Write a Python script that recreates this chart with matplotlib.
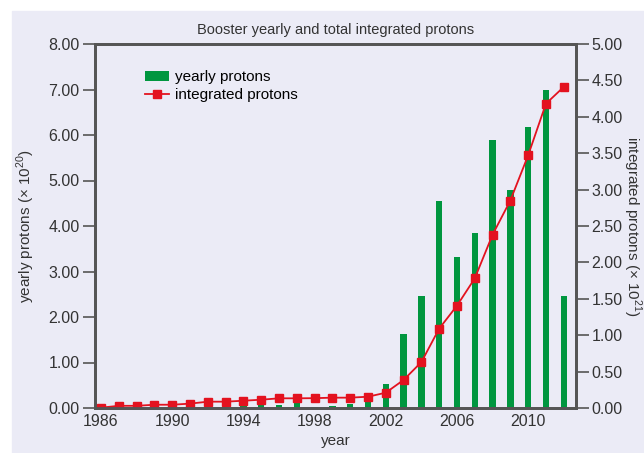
import matplotlib
matplotlib.use("Agg")
import matplotlib.pyplot as plt
from matplotlib.patches import Rectangle

plt.rcParams['font.family'] = ['Liberation Sans', 'DejaVu Sans']
plt.rcParams['mathtext.fontset'] = 'custom'
plt.rcParams['mathtext.rm'] = 'Liberation Sans'

# data
years = list(range(1986, 2013))
yearly = [0.03, 0.03, 0.03, 0.03, 0.03, 0.03, 0.03, 0.03,
          0.10, 0.10, 0.07, 0.14, 0.02, 0.04, 0.08, 0.25,
          0.53, 1.63, 2.46, 4.55, 3.32, 3.85, 5.89, 4.79,
          6.18, 6.99, 2.46]
integrated = [0.005, 0.03, 0.03, 0.045, 0.045, 0.06, 0.087, 0.087,
              0.10, 0.114, 0.133, 0.133, 0.135, 0.142, 0.142, 0.155,
              0.21, 0.385, 0.63, 1.09, 1.405, 1.78, 2.38, 2.85,
              3.47, 4.18, 4.41]
xticks = [1986, 1990, 1994, 1998, 2002, 2006, 2010]

bg = '#ebebf6'
green = '#00963f'
red = '#e3121f'
grey = '#555555'
txt = '#333333'

fig = plt.figure(figsize=(6.44, 4.53), dpi=100)
fig.patch.set_facecolor('white')
fig.patches.append(Rectangle((12 / 644, 0), 1, 1 - 11 / 453,
                             transform=fig.transFigure, color=bg, zorder=-10))

ax = fig.add_axes([95 / 644, 1 - 408 / 453, 481 / 644, 364 / 453])
ax.set_facecolor(bg)
bars = ax.bar(years, yearly, width=0.36, color=green, label='yearly protons')
ax.set_xlim(1985.66, 2012.69)
ax.set_ylim(0, 8)
ax.set_yticks(range(0, 9))
ax.set_yticklabels(['%.2f' % v for v in range(0, 9)])
ax.set_xticks(xticks)
ax.tick_params(axis='x', length=0, pad=4, labelsize=11.5, colors=txt)
ax.tick_params(axis='y', length=9, width=1.2, color=grey, labelsize=11.5,
               labelcolor=txt, pad=2)
ax.set_xlabel('year', fontsize=11, color=txt, labelpad=4)
ax.set_ylabel('yearly protons (× 10$^{20}$)', fontsize=11, color=txt)
ax.yaxis.set_label_coords(-0.12, 0.5)
ax.set_title('Booster yearly and total integrated protons', fontsize=10.5,
             color=txt, pad=7)

ax2 = ax.twinx()
line, = ax2.plot(years, integrated, color=red, lw=1.3, marker='s',
                 markersize=5.3, label='integrated protons')
ax2.set_ylim(0, 5)
rt = [i * 0.5 for i in range(11)]
ax2.set_yticks(rt)
ax2.set_yticklabels(['%.2f' % v for v in rt])
ax2.tick_params(axis='y', length=9, width=1.2, color=grey, labelsize=11.5,
                labelcolor=txt, pad=2)
ax2.set_ylabel('integrated protons (× 10$^{21}$)', fontsize=11, color=txt,
               rotation=270, va='center')
ax2.yaxis.set_label_coords(1.117, 0.5)

for a in (ax, ax2):
    for s in a.spines.values():
        s.set_color(grey)
        s.set_linewidth(2)

ax2.legend([bars, line], ['yearly protons', 'integrated protons'],
           loc='upper left', bbox_to_anchor=(0.075, 0.965), frameon=False,
           fontsize=11, handlelength=1.6, handletextpad=0.4,
           labelspacing=0.25)

fig.savefig('out.png', dpi=100, facecolor=fig.get_facecolor())
